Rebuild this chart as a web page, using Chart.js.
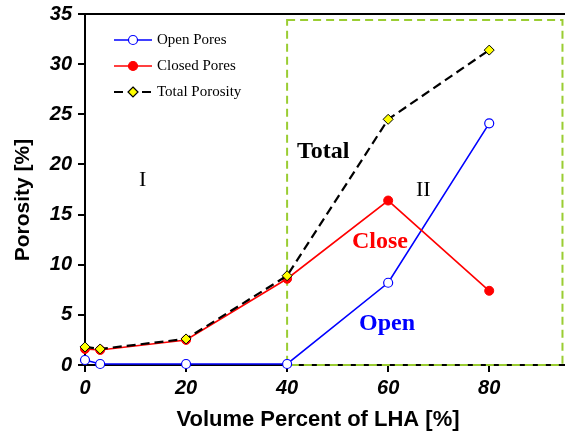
<!DOCTYPE html>
<html lang="en">
<head>
<meta charset="UTF-8">
<title>Porosity vs LHA</title>
<script src="https://cdn.jsdelivr.net/npm/chart.js"></script>
<style>
  html, body { margin: 0; padding: 0; background: #fff; }
  #wrap { width: 565px; height: 435px; position: relative; }
</style>
</head>
<body>
<div id="wrap"><canvas id="porosityChart" width="565" height="435"></canvas></div>
<script>
// data
const lhaPercent = [0, 3, 20, 40, 60, 80];
const openPores = [0.5, 0.1, 0.1, 0.1, 8.2, 24.1];
const closedPores = [1.6, 1.5, 2.5, 8.6, 16.4, 7.4];
const totalPorosity = [1.8, 1.6, 2.6, 8.9, 24.5, 31.4];
const xTicks = [0, 20, 40, 60, 80];
const yTicks = [0, 5, 10, 15, 20, 25, 30, 35];
const regionII = { x0: 40, x1: 94.5, y0: 0, y1: 34.4 };

const pts = ys => lhaPercent.map((x, i) => ({ x: x, y: ys[i] }));

const serif = '"Liberation Serif", "Times New Roman", serif';
const sans = '"Liberation Sans", Arial, sans-serif';

const overlay = {
    id: 'overlay',
    beforeDatasetsDraw(chart) {
        const { ctx, scales: { x, y }, chartArea } = chart;
        ctx.save();
        // region II box
        ctx.strokeStyle = '#9acd32';
        ctx.lineWidth = 2;
        ctx.setLineDash([8, 5]);
        ctx.strokeRect(x.getPixelForValue(regionII.x0), y.getPixelForValue(regionII.y1),
            x.getPixelForValue(regionII.x1) - x.getPixelForValue(regionII.x0),
            y.getPixelForValue(regionII.y0) - y.getPixelForValue(regionII.y1));
        ctx.setLineDash([]);
        // top frame line
        ctx.strokeStyle = '#000';
        ctx.lineWidth = 2;
        ctx.beginPath();
        ctx.moveTo(chartArea.left, chartArea.top);
        ctx.lineTo(chartArea.right, chartArea.top);
        ctx.stroke();
        ctx.restore();
    },
    afterDraw(chart) {
        const { ctx } = chart;
        ctx.save();
        ctx.textBaseline = 'middle';
        ctx.textAlign = 'left';
        // in-plot labels
        ctx.font = 'bold 24px ' + serif;
        ctx.fillStyle = '#000';
        ctx.fillText('Total', 297, 152);
        ctx.fillStyle = '#ff0000';
        ctx.fillText('Close', 352, 242);
        ctx.fillStyle = '#0000ff';
        ctx.fillText('Open', 359, 324);
        ctx.font = '22px ' + serif;
        ctx.fillStyle = '#000';
        ctx.fillText('I', 139, 180);
        ctx.fillText('II', 416, 190);

        // legend
        ctx.font = '15px ' + serif;
        chart.data.datasets.forEach((ds, i) => {
            const ly = 40 + i * 26;
            ctx.strokeStyle = ds.borderColor;
            ctx.lineWidth = ds.borderWidth;
            ctx.setLineDash(ds.borderDash || []);
            ctx.beginPath();
            ctx.moveTo(114, ly);
            ctx.lineTo(152, ly);
            ctx.stroke();
            ctx.setLineDash([]);
            ctx.fillStyle = ds.pointBackgroundColor;
            ctx.strokeStyle = ds.pointBorderColor;
            ctx.lineWidth = 1.2;
            ctx.beginPath();
            if (ds.pointStyle === 'rectRot') {
                ctx.moveTo(133, ly - 5); ctx.lineTo(138, ly); ctx.lineTo(133, ly + 5); ctx.lineTo(128, ly); ctx.closePath();
            } else {
                ctx.arc(133, ly, 4.5, 0, Math.PI * 2);
            }
            ctx.fill();
            ctx.stroke();
            ctx.fillStyle = '#000';
            ctx.fillText(ds.label, 157, ly);
        });

        // axis titles
        ctx.font = 'bold 22px ' + sans;
        ctx.textAlign = 'center';
        ctx.fillText('Volume Percent of LHA [%]', 318, 420);
        ctx.translate(23, 200);
        ctx.rotate(-Math.PI / 2);
        ctx.font = 'bold 21px ' + sans;
        ctx.fillText('Porosity [%]', 0, 0);
        ctx.restore();
    }
};

new Chart(document.getElementById('porosityChart'), {
    type: 'scatter',
    data: {
        datasets: [
            {
                label: 'Open Pores',
                data: pts(openPores),
                showLine: true,
                borderColor: '#0000ff',
                borderWidth: 1.6,
                pointStyle: 'circle',
                pointRadius: 4.5,
                pointBackgroundColor: '#ffffff',
                pointBorderColor: '#0000ff',
                pointBorderWidth: 1.2,
                clip: false,
                order: 3
            },
            {
                label: 'Closed Pores',
                data: pts(closedPores),
                showLine: true,
                borderColor: '#ff0000',
                borderWidth: 1.6,
                pointStyle: 'circle',
                pointRadius: 4.5,
                pointBackgroundColor: '#ff0000',
                pointBorderColor: '#ff0000',
                pointBorderWidth: 1,
                clip: false,
                order: 2
            },
            {
                label: 'Total Porosity',
                data: pts(totalPorosity),
                showLine: true,
                borderColor: '#000000',
                borderWidth: 2.2,
                borderDash: [9, 5],
                pointStyle: 'rectRot',
                pointRadius: 5,
                pointBackgroundColor: '#ffff00',
                pointBorderColor: '#000000',
                pointBorderWidth: 1,
                clip: false,
                order: 1
            }
        ]
    },
    options: {
        responsive: false,
        animation: false,
        devicePixelRatio: 1,
        layout: { autoPadding: false, padding: { top: 14, right: 0, left: 0, bottom: 0 } },
        plugins: { legend: { display: false }, tooltip: { enabled: false } },
        scales: {
            x: {
                type: 'linear',
                min: 0, max: 95,
                afterBuildTicks: s => { s.ticks = xTicks.map(v => ({ value: v })); },
                afterFit: s => { s.height = 70; s.paddingLeft = 0; s.paddingRight = 0; },
                border: { display: true, color: '#000', width: 2 },
                grid: { display: true, drawOnChartArea: false, drawTicks: true, tickLength: 7, color: '#000', lineWidth: 2 },
                ticks: { color: '#000', font: { size: 20, weight: 'bold', style: 'italic', family: sans }, padding: 4, maxRotation: 0 }
            },
            y: {
                type: 'linear',
                min: 0, max: 35,
                afterBuildTicks: s => { s.ticks = yTicks.map(v => ({ value: v })); },
                afterFit: s => { s.width = 85; s.paddingTop = 0; s.paddingBottom = 0; },
                border: { display: true, color: '#000', width: 2 },
                grid: { display: true, drawOnChartArea: false, drawTicks: true, tickLength: 7, color: '#000', lineWidth: 2 },
                ticks: { color: '#000', font: { size: 20, weight: 'bold', style: 'italic', family: sans }, padding: 6 }
            }
        }
    },
    plugins: [overlay]
});
</script>
</body>
</html>
